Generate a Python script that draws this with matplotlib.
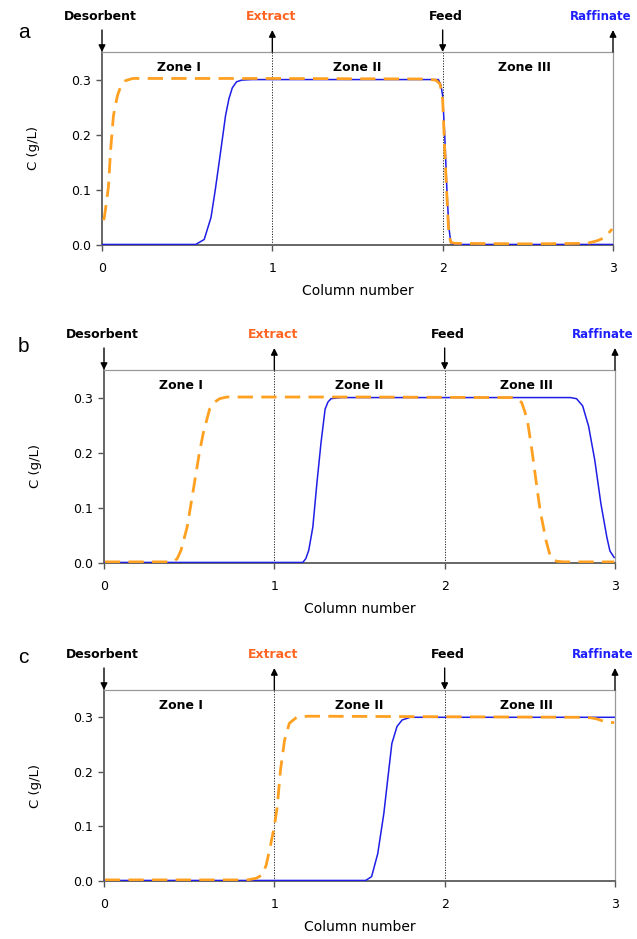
import matplotlib
matplotlib.use("Agg")
import matplotlib.pyplot as plt

plt.rcParams['font.family'] = ['DejaVu Sans']

# valores
a_blue_x = [0, 0.55, 0.6, 0.64, 0.665, 0.69, 0.71, 0.725, 0.745, 0.765, 0.79, 0.82, 0.88, 1.5,
            1.975, 1.99, 2.0, 2.012, 2.024, 2.036, 2.048, 2.06, 3.0]
a_blue_y = [0.001, 0.001, 0.01, 0.05, 0.1, 0.155, 0.2, 0.234, 0.265, 0.285, 0.296, 0.299, 0.3, 0.3,
            0.3, 0.29, 0.27, 0.2, 0.106, 0.033, 0.004, 0.001, 0.001]
a_orange_x = [0.01, 0.014, 0.025, 0.038, 0.05, 0.067, 0.08, 0.09, 0.11, 0.138, 0.18, 1.0, 1.9,
              1.96, 1.985, 2.0, 2.012, 2.024, 2.036, 2.048, 2.07, 2.5, 2.85, 2.91, 2.94, 2.97, 2.995]
a_orange_y = [0.045, 0.051, 0.075, 0.106, 0.17, 0.234, 0.255, 0.27, 0.288, 0.298, 0.302, 0.302, 0.301,
              0.299, 0.292, 0.264, 0.173, 0.094, 0.02, 0.005, 0.003, 0.002, 0.003, 0.008, 0.012, 0.02, 0.029]

b_blue_x = [0, 1.167, 1.185, 1.202, 1.226, 1.25, 1.274, 1.298, 1.315, 1.333, 1.393, 2.0, 2.738,
            2.774, 2.81, 2.845, 2.881, 2.917, 2.952, 2.97, 2.995]
b_blue_y = [0.001, 0.001, 0.008, 0.023, 0.065, 0.145, 0.218, 0.279, 0.292, 0.298, 0.3, 0.3, 0.3,
            0.298, 0.285, 0.248, 0.187, 0.108, 0.047, 0.022, 0.01]
b_orange_x = [0.005, 0.405, 0.43, 0.452, 0.488, 0.524, 0.56, 0.583, 0.62, 0.65, 0.679, 0.72, 0.774,
              1.5, 2.393, 2.43, 2.452, 2.47, 2.488, 2.512, 2.536, 2.56, 2.595, 2.615, 2.631, 2.66, 2.7, 2.995]
b_orange_y = [0.002, 0.002, 0.008, 0.023, 0.065, 0.132, 0.2, 0.236, 0.279, 0.292, 0.298, 0.301, 0.301,
              0.301, 0.3, 0.297, 0.291, 0.275, 0.254, 0.205, 0.15, 0.096, 0.041, 0.018, 0.007, 0.003, 0.002, 0.002]

c_blue_x = [0, 1.536, 1.571, 1.607, 1.643, 1.667, 1.69, 1.72, 1.75, 1.798, 2.5, 2.995]
c_blue_y = [0.001, 0.001, 0.008, 0.05, 0.124, 0.19, 0.252, 0.283, 0.295, 0.3, 0.3, 0.3]
c_orange_x = [0.005, 0.845, 0.893, 0.929, 0.952, 0.976, 1.0, 1.017, 1.036, 1.06, 1.088, 1.131, 1.2,
              2.0, 2.821, 2.86, 2.893, 2.94, 2.97, 2.995]
c_orange_y = [0.002, 0.002, 0.005, 0.011, 0.029, 0.063, 0.1, 0.136, 0.203, 0.258, 0.289, 0.3, 0.302,
              0.301, 0.3, 0.299, 0.297, 0.292, 0.291, 0.29]

ports = ["Desorbent", "Extract", "Feed", "Raffinate"]
port_x = [0, 1, 2, 3]
port_label_x = [-0.01, 0.99, 2.02, 2.93]
port_colors = ["black", "#FF6420", "black", "#1E1EFF"]
port_dir = ["down", "up", "down", "up"]
zones = ["Zone I", "Zone II", "Zone III"]
zone_x = [0.45, 1.5, 2.48]
y_ticks = [0.0, 0.1, 0.2, 0.3]
x_ticks = [0, 1, 2, 3]

panels = [
    ("a", a_blue_x, a_blue_y, a_orange_x, a_orange_y),
    ("b", b_blue_x, b_blue_y, b_orange_x, b_orange_y),
    ("c", c_blue_x, c_blue_y, c_orange_x, c_orange_y),
]

W, H = 637, 939
# caja de ejes en pixeles: izq, der, arriba, abajo
boxes = [(102, 613, 52, 245), (104, 615, 370, 563), (104, 615, 690, 881)]
letter_pos = [(18, 38), (18, 352), (18, 663)]

fig = plt.figure(figsize=(W / 100, H / 100), dpi=100)

for (letra, bx, by, ox, oy), (l, r, t, b), (lx, ly) in zip(panels, boxes, letter_pos):
    ax = fig.add_axes([l / W, 1 - b / H, (r - l) / W, (b - t) / H])
    alto = b - t

    ax.plot(bx, by, color="#1E1EE6", lw=1.1, zorder=3)
    ax.plot(ox, oy, color="#FFA020", lw=2.0, dashes=(5.5, 3), zorder=4)

    for xv in [1, 2]:
        ax.axvline(xv, color="#222222", lw=0.7, ls=(0, (1.2, 1.5)), zorder=2)

    ax.set_xlim(0, 3)
    ax.set_ylim(0, 0.35)
    ax.set_xticks(x_ticks)
    ax.set_yticks(y_ticks)
    ax.set_yticklabels([f"{v:.1f}" for v in y_ticks])
    ax.tick_params(axis="both", direction="out", length=4, width=1, color="#555555",
                   labelsize=9, pad=4)
    ax.tick_params(axis="x", pad=8)

    ax.spines["left"].set_color("#666666")
    ax.spines["left"].set_linewidth(1.4)
    ax.spines["bottom"].set_color("#666666")
    ax.spines["bottom"].set_linewidth(1.4)
    ax.spines["top"].set_color("#999999")
    ax.spines["top"].set_linewidth(0.9)
    ax.spines["right"].set_color("#999999")
    ax.spines["right"].set_linewidth(0.9)

    ax.set_xlabel("Column number", fontsize=10, labelpad=7)
    ax.set_ylabel("C (g/L)", fontsize=9.5, labelpad=22)

    for z, zx in zip(zones, zone_x):
        ax.text(zx, 0.322, z, ha="center", va="center", fontsize=9, fontweight="bold")

    flecha_y = 1 + 22 / alto
    texto_y = 1 + 35 / alto
    for nombre, px, tx, col, d in zip(ports, port_x, port_label_x, port_colors, port_dir):
        if d == "down":
            xy, xytext = (px, 1.0), (px, flecha_y)
        else:
            xy, xytext = (px, flecha_y), (px, 1.0)
        ax.annotate("", xy=xy, xytext=xytext,
                    xycoords=("data", "axes fraction"), textcoords=("data", "axes fraction"),
                    arrowprops=dict(arrowstyle="-|>", color="black", lw=1,
                                    mutation_scale=10, shrinkA=0, shrinkB=0),
                    annotation_clip=False)
        fs = 8.5 if nombre == "Raffinate" else 9
        ax.text(tx, texto_y, nombre, transform=ax.get_xaxis_transform(), ha="center",
                va="center", fontsize=fs, fontweight="bold", color=col, clip_on=False)

    fig.text(lx / W, 1 - ly / H, letra, fontsize=15, family="Liberation Sans",
             ha="left", va="baseline")

fig.savefig("out.png", dpi=100)
